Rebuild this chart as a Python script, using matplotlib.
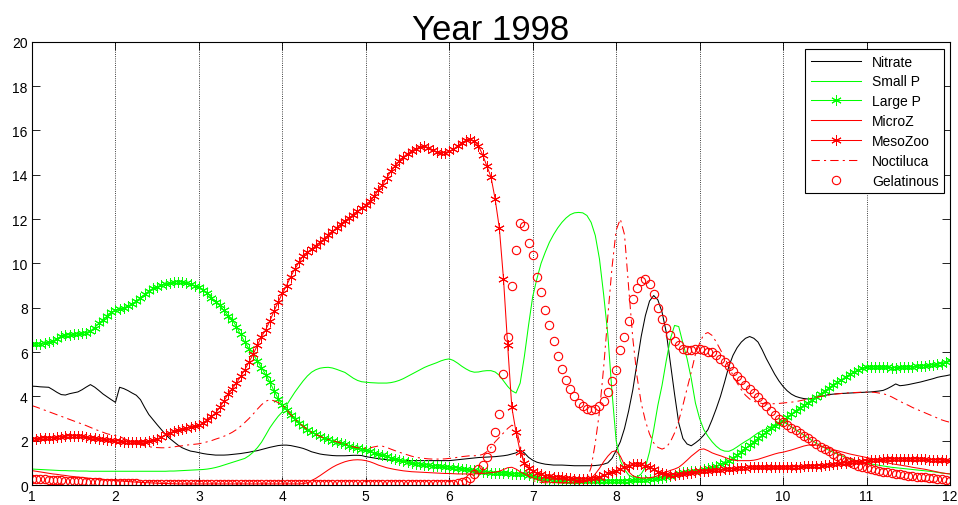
import matplotlib.pyplot as plt
import numpy as np

plt.rcParams['font.family'] = ['Liberation Sans', 'DejaVu Sans']

# daily-ish model output, sampled every 0.05 month from Jan (1) to Dec (12)
month = np.linspace(1, 12, 221)

nitrate = [
    4.46, 4.45, 4.43, 4.42, 4.41, 4.30, 4.18, 4.08, 4.06, 4.12, 4.16, 4.20, 4.30, 4.42, 4.53, 4.42, 4.27, 4.11, 3.98, 3.85,
    3.73, 4.41, 4.35, 4.26, 4.15, 4.05, 3.85, 3.50, 3.18, 2.95, 2.72, 2.50, 2.28, 2.10, 1.95, 1.80, 1.68, 1.60, 1.53, 1.50,
    1.46, 1.42, 1.39, 1.37, 1.35, 1.35, 1.35, 1.36, 1.38, 1.40, 1.42, 1.45, 1.48, 1.52, 1.55, 1.60, 1.65, 1.70, 1.74, 1.78,
    1.80, 1.80, 1.78, 1.74, 1.70, 1.65, 1.58, 1.50, 1.45, 1.40, 1.37, 1.35, 1.33, 1.32, 1.32, 1.32, 1.33, 1.34, 1.34, 1.33,
    1.28, 1.25, 1.22, 1.19, 1.16, 1.14, 1.12, 1.11, 1.10, 1.10, 1.10, 1.10, 1.10, 1.10, 1.10, 1.10, 1.10, 1.10, 1.10, 1.10,
    1.10, 1.12, 1.14, 1.16, 1.18, 1.20, 1.22, 1.24, 1.25, 1.26, 1.27, 1.28, 1.30, 1.32, 1.35, 1.40, 1.45, 1.58, 1.45, 1.25,
    1.12, 1.03, 0.98, 0.94, 0.92, 0.90, 0.90, 0.90, 0.89, 0.88, 0.87, 0.87, 0.87, 0.87, 0.87, 0.88, 0.90, 0.94, 1.00, 1.20,
    1.55, 1.95, 2.55, 3.35, 4.30, 5.50, 6.70, 7.64, 8.30, 8.55, 8.35, 7.80, 6.90, 5.50, 4.10, 2.80, 2.10, 1.85, 1.77, 1.90,
    2.05, 2.25, 2.50, 2.95, 3.45, 4.00, 4.65, 5.35, 5.85, 6.20, 6.45, 6.62, 6.70, 6.62, 6.45, 6.10, 5.70, 5.35, 5.00, 4.70,
    4.45, 4.25, 4.10, 4.00, 3.94, 3.90, 3.88, 3.90, 3.95, 4.00, 4.04, 4.08, 4.10, 4.12, 4.13, 4.14, 4.15, 4.16, 4.17, 4.18,
    4.19, 4.20, 4.22, 4.24, 4.27, 4.35, 4.45, 4.56, 4.48, 4.50, 4.53, 4.57, 4.61, 4.65, 4.70, 4.75, 4.80, 4.86, 4.90, 4.93,
    4.97]

small_p = [
    0.72, 0.71, 0.70, 0.69, 0.68, 0.67, 0.66, 0.65, 0.65, 0.64, 0.64, 0.63, 0.63, 0.63, 0.62, 0.62, 0.62, 0.62, 0.62, 0.62,
    0.62, 0.62, 0.62, 0.62, 0.62, 0.62, 0.62, 0.62, 0.62, 0.62, 0.62, 0.62, 0.62, 0.63, 0.63, 0.64, 0.65, 0.66, 0.67, 0.68,
    0.69, 0.70, 0.72, 0.75, 0.79, 0.84, 0.90, 0.96, 1.02, 1.08, 1.14, 1.20, 1.32, 1.48, 1.68, 1.93, 2.25, 2.58, 2.85, 3.10,
    3.30, 3.60, 3.90, 4.19, 4.45, 4.70, 4.92, 5.09, 5.20, 5.27, 5.30, 5.31, 5.28, 5.22, 5.15, 5.08, 4.95, 4.82, 4.72, 4.66,
    4.64, 4.62, 4.61, 4.60, 4.60, 4.60, 4.62, 4.66, 4.72, 4.80, 4.90, 5.00, 5.10, 5.20, 5.30, 5.38, 5.45, 5.52, 5.60, 5.66,
    5.69, 5.62, 5.50, 5.36, 5.24, 5.14, 5.09, 5.10, 5.14, 5.16, 5.16, 5.10, 4.95, 4.70, 4.45, 4.25, 4.15, 4.60, 5.80, 7.20,
    8.50, 9.30, 10.00, 10.50, 10.95, 11.30, 11.60, 11.85, 12.05, 12.20, 12.28, 12.30, 12.28, 12.16, 11.85, 11.26, 10.20, 8.60, 6.80, 4.20,
    2.00, 1.10, 0.70, 0.45, 0.35, 0.35, 0.50, 0.80, 1.50, 2.50, 3.60, 4.50, 5.60, 6.60, 7.20, 7.15, 6.40, 5.70, 4.80, 3.70,
    3.00, 2.50, 2.20, 1.95, 1.75, 1.60, 1.53, 1.52, 1.60, 1.72, 1.85, 1.97, 2.08, 2.22, 2.35, 2.45, 2.53, 2.62, 2.72, 2.82,
    2.90, 2.75, 2.62, 2.50, 2.38, 2.25, 2.12, 2.00, 1.88, 1.78, 1.67, 1.57, 1.48, 1.40, 1.32, 1.25, 1.18, 1.12, 1.07, 1.02,
    0.98, 0.95, 0.92, 0.89, 0.86, 0.83, 0.80, 0.78, 0.76, 0.74, 0.72, 0.70, 0.68, 0.66, 0.64, 0.62, 0.60, 0.57, 0.54, 0.52,
    0.50]

large_p = [
    6.35, 6.35, 6.38, 6.42, 6.45, 6.50, 6.60, 6.72, 6.75, 6.78, 6.80, 6.82, 6.85, 6.88, 6.95, 7.10, 7.30, 7.45, 7.62, 7.80,
    7.88, 7.95, 8.00, 8.08, 8.18, 8.30, 8.45, 8.60, 8.75, 8.87, 8.95, 9.02, 9.08, 9.12, 9.16, 9.18, 9.15, 9.10, 9.05, 9.00,
    8.92, 8.80, 8.65, 8.45, 8.28, 8.10, 7.88, 7.64, 7.45, 7.15, 6.80, 6.44, 6.15, 5.90, 5.60, 5.30, 4.98, 4.65, 4.25, 3.90,
    3.60, 3.40, 3.18, 2.98, 2.80, 2.65, 2.50, 2.38, 2.28, 2.20, 2.12, 2.06, 2.00, 1.95, 1.90, 1.85, 1.78, 1.72, 1.67, 1.62,
    1.58, 1.52, 1.46, 1.40, 1.35, 1.30, 1.24, 1.18, 1.12, 1.08, 1.04, 1.00, 0.97, 0.95, 0.92, 0.90, 0.88, 0.86, 0.84, 0.82,
    0.80, 0.78, 0.76, 0.73, 0.70, 0.68, 0.66, 0.63, 0.60, 0.58, 0.56, 0.55, 0.54, 0.53, 0.52, 0.51, 0.50, 0.49, 0.48, 0.44,
    0.40, 0.35, 0.30, 0.27, 0.25, 0.23, 0.22, 0.21, 0.20, 0.20, 0.20, 0.20, 0.20, 0.20, 0.20, 0.19, 0.19, 0.19, 0.19, 0.19,
    0.19, 0.19, 0.19, 0.20, 0.21, 0.22, 0.23, 0.24, 0.26, 0.28, 0.30, 0.33, 0.37, 0.42, 0.47, 0.52, 0.57, 0.60, 0.62, 0.64,
    0.65, 0.70, 0.75, 0.80, 0.86, 0.93, 1.00, 1.10, 1.22, 1.35, 1.50, 1.65, 1.80, 1.95, 2.10, 2.25, 2.40, 2.55, 2.68, 2.80,
    2.90, 3.05, 3.20, 3.35, 3.48, 3.60, 3.72, 3.85, 3.98, 4.11, 4.25, 4.38, 4.52, 4.64, 4.75, 4.88, 5.00, 5.10, 5.20, 5.27,
    5.31, 5.32, 5.32, 5.31, 5.31, 5.31, 5.30, 5.30, 5.31, 5.31, 5.32, 5.33, 5.35, 5.37, 5.39, 5.41, 5.43, 5.45, 5.48, 5.55,
    5.65]

micro_z = [
    0.65, 0.62, 0.59, 0.56, 0.53, 0.50, 0.48, 0.45, 0.43, 0.40, 0.38, 0.36, 0.34, 0.32, 0.30, 0.28, 0.27, 0.25, 0.24, 0.22,
    0.20, 0.19, 0.17, 0.16, 0.14, 0.13, 0.12, 0.11, 0.10, 0.09, 0.08, 0.07, 0.07, 0.06, 0.06, 0.05, 0.05, 0.05, 0.05, 0.05,
    0.05, 0.05, 0.05, 0.05, 0.05, 0.05, 0.05, 0.05, 0.05, 0.05, 0.05, 0.05, 0.05, 0.05, 0.05, 0.05, 0.05, 0.05, 0.05, 0.05,
    0.05, 0.05, 0.05, 0.05, 0.05, 0.06, 0.10, 0.20, 0.30, 0.42, 0.55, 0.68, 0.80, 0.90, 0.98, 1.05, 1.10, 1.13, 1.14, 1.13,
    1.10, 1.05, 0.98, 0.90, 0.84, 0.78, 0.74, 0.70, 0.67, 0.64, 0.62, 0.60, 0.59, 0.58, 0.57, 0.56, 0.55, 0.54, 0.53, 0.52,
    0.52, 0.51, 0.50, 0.50, 0.50, 0.50, 0.50, 0.51, 0.52, 0.54, 0.56, 0.58, 0.62, 0.70, 0.78, 0.80, 0.72, 0.60, 0.50, 0.40,
    0.32, 0.25, 0.20, 0.16, 0.13, 0.11, 0.10, 0.10, 0.10, 0.10, 0.10, 0.10, 0.12, 0.18, 0.30, 0.50, 0.75, 1.05, 1.30, 1.50,
    1.55, 1.30, 0.90, 0.60, 0.42, 0.35, 0.32, 0.32, 0.33, 0.36, 0.42, 0.50, 0.58, 0.66, 0.72, 0.80, 0.95, 1.12, 1.30, 1.45,
    1.60, 1.63, 1.55, 1.45, 1.38, 1.32, 1.25, 1.18, 1.13, 1.10, 1.10, 1.10, 1.10, 1.12, 1.16, 1.22, 1.28, 1.34, 1.40, 1.45,
    1.48, 1.53, 1.58, 1.64, 1.70, 1.76, 1.80, 1.82, 1.80, 1.75, 1.70, 1.65, 1.60, 1.55, 1.50, 1.45, 1.40, 1.36, 1.32, 1.28,
    1.24, 1.20, 1.15, 1.10, 1.05, 1.00, 0.96, 0.93, 0.90, 0.87, 0.84, 0.80, 0.77, 0.74, 0.71, 0.67, 0.63, 0.59, 0.55, 0.52,
    0.50]

meso_zoo = [
    2.08, 2.08, 2.10, 2.12, 2.12, 2.14, 2.16, 2.18, 2.20, 2.22, 2.23, 2.22, 2.20, 2.16, 2.12, 2.10, 2.08, 2.06, 2.04, 2.02,
    2.00, 1.98, 1.96, 1.95, 1.93, 1.92, 1.92, 1.93, 1.97, 2.02, 2.08, 2.16, 2.28, 2.36, 2.42, 2.48, 2.53, 2.58, 2.62, 2.66,
    2.70, 2.80, 2.95, 3.10, 3.25, 3.50, 3.80, 4.10, 4.35, 4.60, 4.90, 5.20, 5.55, 5.90, 6.30, 6.70, 7.00, 7.40, 7.85, 8.25,
    8.65, 9.00, 9.40, 9.75, 10.05, 10.35, 10.50, 10.65, 10.80, 10.95, 11.10, 11.26, 11.45, 11.60, 11.78, 11.93, 12.05, 12.20, 12.35, 12.50,
    12.62, 12.80, 13.02, 13.30, 13.55, 13.85, 14.15, 14.40, 14.60, 14.80, 14.95, 15.08, 15.18, 15.25, 15.30, 15.22, 15.10, 15.03, 15.00, 15.00,
    15.05, 15.15, 15.30, 15.45, 15.55, 15.60, 15.50, 15.30, 14.90, 14.40, 13.90, 12.90, 11.60, 9.30, 6.30, 3.50, 2.40, 1.50, 1.00, 0.75,
    0.62, 0.55, 0.48, 0.42, 0.40, 0.38, 0.36, 0.35, 0.33, 0.31, 0.29, 0.27, 0.27, 0.28, 0.30, 0.33, 0.37, 0.44, 0.52, 0.60,
    0.65, 0.72, 0.80, 0.88, 0.93, 0.95, 0.93, 0.87, 0.80, 0.70, 0.60, 0.52, 0.48, 0.47, 0.47, 0.48, 0.50, 0.53, 0.56, 0.60,
    0.62, 0.64, 0.65, 0.66, 0.67, 0.68, 0.70, 0.72, 0.74, 0.76, 0.78, 0.79, 0.80, 0.80, 0.80, 0.80, 0.80, 0.80, 0.80, 0.80,
    0.80, 0.80, 0.81, 0.82, 0.83, 0.84, 0.85, 0.86, 0.87, 0.88, 0.90, 0.92, 0.94, 0.96, 0.98, 1.00, 1.02, 1.04, 1.06, 1.08,
    1.10, 1.12, 1.14, 1.15, 1.16, 1.17, 1.17, 1.17, 1.17, 1.17, 1.17, 1.17, 1.17, 1.17, 1.16, 1.15, 1.14, 1.13, 1.12, 1.11,
    1.10]

noctiluca = [
    3.58, 3.52, 3.45, 3.38, 3.31, 3.24, 3.17, 3.10, 3.03, 2.96, 2.89, 2.82, 2.75, 2.68, 2.60, 2.52, 2.45, 2.38, 2.31, 2.27,
    2.23, 2.18, 2.10, 2.02, 1.95, 1.88, 1.82, 1.77, 1.73, 1.70, 1.69, 1.68, 1.68, 1.70, 1.72, 1.75, 1.77, 1.80, 1.82, 1.84,
    1.86, 1.90, 1.95, 2.00, 2.07, 2.13, 2.20, 2.28, 2.38, 2.50, 2.65, 2.82, 3.00, 3.20, 3.42, 3.62, 3.78, 3.85, 3.80, 3.72,
    3.62, 3.40, 3.18, 2.98, 2.80, 2.65, 2.50, 2.38, 2.28, 2.20, 2.12, 2.06, 2.00, 1.95, 1.90, 1.85, 1.78, 1.72, 1.68, 1.66,
    1.66, 1.68, 1.72, 1.76, 1.75, 1.70, 1.62, 1.55, 1.48, 1.42, 1.36, 1.30, 1.25, 1.22, 1.20, 1.18, 1.17, 1.17, 1.17, 1.18,
    1.20, 1.22, 1.25, 1.28, 1.30, 1.32, 1.32, 1.33, 1.38, 1.50, 1.70, 1.95, 2.15, 2.35, 2.55, 2.70, 2.60, 1.80, 0.90, 0.40,
    0.20, 0.15, 0.12, 0.10, 0.10, 0.10, 0.10, 0.10, 0.10, 0.10, 0.10, 0.12, 0.15, 0.27, 0.80, 1.90, 3.30, 5.30, 7.60, 9.80,
    11.50, 12.00, 11.30, 8.90, 6.60, 4.90, 3.70, 2.90, 2.30, 1.90, 1.70, 1.62, 1.70, 1.95, 2.35, 2.90, 3.60, 4.35, 5.10, 5.90,
    6.40, 6.80, 6.88, 6.75, 6.45, 6.10, 5.75, 5.35, 4.95, 4.60, 4.30, 4.05, 3.88, 3.78, 3.72, 3.68, 3.66, 3.66, 3.67, 3.68,
    3.70, 3.72, 3.74, 3.76, 3.80, 3.84, 3.88, 3.92, 3.96, 4.00, 4.03, 4.06, 4.09, 4.11, 4.13, 4.15, 4.16, 4.17, 4.18, 4.19,
    4.19, 4.19, 4.18, 4.15, 4.12, 4.06, 3.98, 3.88, 3.78, 3.68, 3.60, 3.50, 3.42, 3.34, 3.26, 3.18, 3.10, 3.02, 2.94, 2.88,
    2.83]

gelatinous = [
    0.28, 0.27, 0.26, 0.25, 0.24, 0.23, 0.22, 0.21, 0.20, 0.19, 0.18, 0.17, 0.16, 0.15, 0.14, 0.13, 0.12, 0.11, 0.10, 0.10,
    0.09, 0.09, 0.08, 0.08, 0.07, 0.07, 0.06, 0.06, 0.06, 0.05, 0.05, 0.05, 0.05, 0.05, 0.05, 0.05, 0.05, 0.05, 0.05, 0.05,
    0.05, 0.05, 0.05, 0.05, 0.05, 0.05, 0.05, 0.05, 0.05, 0.05, 0.05, 0.05, 0.05, 0.05, 0.05, 0.05, 0.05, 0.05, 0.05, 0.05,
    0.05, 0.05, 0.05, 0.05, 0.05, 0.05, 0.05, 0.05, 0.05, 0.05, 0.05, 0.05, 0.05, 0.05, 0.05, 0.05, 0.05, 0.05, 0.05, 0.05,
    0.05, 0.05, 0.05, 0.05, 0.05, 0.05, 0.05, 0.05, 0.05, 0.05, 0.05, 0.05, 0.05, 0.05, 0.05, 0.05, 0.05, 0.05, 0.05, 0.05,
    0.05, 0.06, 0.08, 0.12, 0.20, 0.30, 0.48, 0.70, 0.90, 1.25, 1.65, 2.40, 3.20, 5.00, 6.70, 9.00, 10.60, 11.80, 11.70, 10.90,
    10.40, 9.40, 8.70, 7.90, 7.20, 6.50, 5.80, 5.24, 4.75, 4.35, 4.00, 3.72, 3.55, 3.43, 3.40, 3.42, 3.55, 3.80, 4.20, 4.70,
    5.20, 6.10, 6.70, 7.40, 8.40, 8.90, 9.20, 9.30, 9.05, 8.60, 8.00, 7.50, 7.10, 6.75, 6.50, 6.30, 6.15, 6.08, 6.08, 6.12,
    6.14, 6.10, 6.02, 5.98, 5.85, 5.70, 5.55, 5.38, 5.15, 4.93, 4.72, 4.52, 4.32, 4.15, 3.95, 3.75, 3.55, 3.33, 3.15, 2.98,
    2.83, 2.70, 2.58, 2.46, 2.34, 2.22, 2.10, 1.98, 1.86, 1.72, 1.62, 1.52, 1.42, 1.30, 1.20, 1.10, 1.02, 0.95, 0.88, 0.82,
    0.76, 0.72, 0.68, 0.64, 0.60, 0.57, 0.54, 0.51, 0.48, 0.45, 0.42, 0.40, 0.38, 0.36, 0.35, 0.33, 0.31, 0.29, 0.27, 0.24,
    0.19]

green = '#00ff00'
red = '#ff0000'
asterisk = (6, 2, 0)

fig = plt.figure(figsize=(9.58, 5.06), dpi=100)
ax = fig.add_axes([0.0334, 0.0395, 0.9582, 0.876])

ax.plot(month, nitrate, color='k', lw=0.75, label='Nitrate')
ax.plot(month, small_p, color=green, lw=0.75, label='Small P')
ax.plot(month, large_p, color=green, lw=0.75, marker=asterisk, ms=7.5, mew=0.7, label='Large P')
ax.plot(month, micro_z, color=red, lw=0.75, label='MicroZ')
ax.plot(month, meso_zoo, color=red, lw=0.75, marker=asterisk, ms=7.5, mew=0.7, label='MesoZoo')
ax.plot(month, noctiluca, color=red, lw=0.75, linestyle=(0, (8, 4, 2, 4)), label='Noctiluca')
ax.plot(month, gelatinous, color=red, lw=0, marker='o', ms=6, mfc='none', mew=0.8, label='Gelatinous')

ax.set_xlim(1, 12)
ax.set_ylim(0, 20)
ax.set_xticks(range(1, 13))
ax.set_yticks(range(0, 21, 2))
ax.tick_params(direction='in', length=6, width=0.6, top=True, right=True, labelsize=10, pad=3)
ax.xaxis.grid(True, color='k', linestyle=':', linewidth=0.6)
for sp in ax.spines.values():
    sp.set_linewidth(0.8)

ax.set_title('Year 1998', fontsize=25, pad=2)

leg = ax.legend(loc='upper right', bbox_to_anchor=(0.9935, 0.9835), borderaxespad=0,
                fancybox=False, edgecolor='k', framealpha=1, fontsize=10,
                handlelength=3.6, labelspacing=0.42, numpoints=1, borderpad=0.4, handletextpad=0.8)
leg.get_frame().set_linewidth(0.8)

fig.savefig('out.png', dpi=100)
